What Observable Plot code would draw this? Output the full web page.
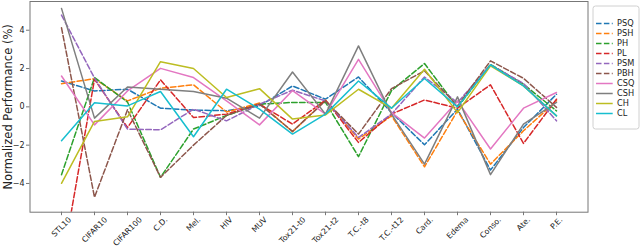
<!DOCTYPE html>
<html><head><meta charset="utf-8">
<script src="https://cdn.jsdelivr.net/npm/d3@7"></script>
<script src="https://cdn.jsdelivr.net/npm/@observablehq/plot@0.6"></script>
<style>
body{margin:0;background:#fff}
#chart{position:relative;width:640px;height:247px;font-family:"DejaVu Sans"}
#chart svg{position:absolute;overflow:visible}
</style>
</head><body><div id="chart"></div>
<script>
const categories = ["STL10","CIFAR10","CIFAR100","C.D.","Mel.","HIV","MUV","Tox21-t0","Tox21-t2","T.C.-t8","T.C.-t12","Card.","Edema","Conso.","Ate.","P.E."];
const seriesNames = ["PSQ","PSH","PH","PL","PSM","PBH","CSQ","CSH","CH","CL"];
const dashedSeries = ["PSQ","PSH","PH","PL","PSM","PBH"];
const colors = ["#1f77b4","#ff7f0e","#2ca02c","#d62728","#9467bd","#8c564b","#e377c2","#7f7f7f","#bcbd22","#17becf"];
const yTicks = [-4, -2, 0, 2, 4];
const yLabel = "Normalized Performance (%)";

const PSQ = [1.35, 0.83, 0.92, -0.07, -0.17, -0.2, 0.05, 1.09, 0.4, 1.56, -0.3, -1.98, -0.12, -3.3, -1.08, 0.66];
const PSH = [1.21, 1.47, 0.31, 0.97, 1.15, -0.27, 0.2, -1.3, 0.35, -1.68, -0.47, -3.13, -0.2, -2.99, -1.25, 0.31];
const PH  = [-3.54, 1.53, 0.25, -3.68, -1.16, -0.45, 0.14, 0.23, 0.23, -2.6, 0.85, 2.26, -0.03, 2.22, 1.18, -0.21];
const PL  = [-8.4, 1.44, -1.08, 1.41, -0.56, -0.38, 0.14, -0.9, 0.35, -1.86, -0.38, 0.36, -0.07, 1.15, -1.91, 0.4];
const PSM = [4.79, 1.5, -1.16, -1.2, -0.12, -0.73, 0.14, 0.87, 0.31, -1.6, -0.38, 1.56, 0.22, 2.19, 1.22, -0.73];
const PBH = [4.13, -4.72, -0.15, -3.68, -2.0, -0.45, 0.14, -1.28, 0.31, -1.42, 0.95, 1.88, 0.05, 2.4, 1.49, -0.03];
const CSQ = [1.61, -0.94, 0.83, 2.01, 1.53, 0.31, -0.94, 0.85, -0.38, 2.48, -0.3, -1.63, 0.31, -2.2, -0.07, 0.75];
const CSH = [5.14, -0.59, 1.04, 0.92, 0.8, 0.45, -0.59, 1.82, -0.38, 3.18, -0.38, -2.99, 0.52, -3.54, -0.9, 0.23];
const CH  = [-3.99, -0.76, -0.52, 2.36, 2.0, 0.49, 0.95, -0.64, -0.42, 0.92, -0.07, 1.96, -0.3, 2.14, 1.09, -0.47];
const CL  = [-1.77, 0.22, 0.05, 0.8, -1.56, 0.92, -0.12, -1.42, -0.38, 1.35, -0.07, 1.48, 0.0, 2.19, 1.09, -0.47];

const seriesValues = {PSQ, PSH, PH, PL, PSM, PBH, CSQ, CSH, CH, CL};
const rows = seriesNames.flatMap(s => seriesValues[s].map((v, i) => ({series: s, category: categories[i], value: v})));
const dashedRows = rows.filter(r => dashedSeries.includes(r.series));
const solidRows = rows.filter(r => !dashedSeries.includes(r.series));

const FONT = "DejaVu Sans";
const tickFs = 7.8;
const ctx = document.createElement("canvas").getContext("2d");
ctx.font = `${tickFs}px "${FONT}"`;
const S = Math.SQRT1_2;

const color = {domain: seriesNames, range: colors};
const W = 640, H = 247;
const mL = 29.5, mR = 52.5, mT = 1, mB = 35.3;
const dash = "5.5,2.4";

const xLabelMarks = categories.map(c => {
  const w = ctx.measureText(c).width;
  const dy = (215.8 - (H - mB)) + (w * S + 6 * S) / 2;
  return Plot.text([c], {x: d => d, frameAnchor: "bottom", dy, rotate: -45, textAnchor: "middle", lineAnchor: "middle", fontSize: tickFs, fill: "#222"});
});

const main = Plot.plot({
  width: W, height: H,
  marginLeft: mL, marginRight: mR, marginTop: mT, marginBottom: mB,
  style: {fontFamily: FONT, background: "transparent", color: "#222"},
  x: {type: "point", domain: categories, padding: 0.757},
  y: {domain: [-5.5, 5.5]},
  color,
  marks: [
    Plot.lineY(dashedRows, {x: "category", y: "value", z: "series", stroke: "series", strokeWidth: 1.5, strokeDasharray: dash, clip: true}),
    Plot.lineY(solidRows, {x: "category", y: "value", z: "series", stroke: "series", strokeWidth: 1.5, clip: true}),
    Plot.frame({stroke: "#777", strokeWidth: 1}),
    Plot.axisY({ticks: yTicks, tickSize: 3.5, tickPadding: 2, fontSize: 8, label: null, stroke: "#777",
      tickFormat: d => d < 0 ? "\u2212" + Math.abs(d) : String(d)}),
    Plot.axisX({ticks: categories, tickSize: 3.5, tickFormat: () => "", label: null, stroke: "#777"}),
    ...xLabelMarks,
    Plot.text([yLabel], {frameAnchor: "left", dx: -22, rotate: -90, textAnchor: "middle", lineAnchor: "middle", fontSize: 11.5, fill: "#222"})
  ]
});
main.style.left = "0px"; main.style.top = "0px";

const legendRows = seriesNames.map(s => ({name: s}));
const legend = Plot.plot({
  width: 47, height: 124, margin: 0,
  style: {fontFamily: FONT, background: "transparent"},
  x: {domain: [0, 1], range: [3.5, 20.2], axis: null},
  y: {type: "point", domain: seriesNames, range: [8.2, 117.2], axis: null},
  color,
  marks: [
    Plot.frame({stroke: "#d0d0d0", fill: "white", fillOpacity: 0.8, rx: 2.5, inset: 0.5}),
    Plot.link(legendRows.filter(r => dashedSeries.includes(r.name)), {x1: () => 0, x2: () => 1, y1: "name", y2: "name", stroke: "name", strokeWidth: 1.5, strokeDasharray: dash}),
    Plot.link(legendRows.filter(r => !dashedSeries.includes(r.name)), {x1: () => 0, x2: () => 1, y1: "name", y2: "name", stroke: "name", strokeWidth: 1.5}),
    Plot.text(legendRows, {x: () => 1, y: "name", text: "name", dx: 4.3, textAnchor: "start", fontSize: 8.2, fill: "#222"})
  ]
});
legend.style.left = "591.5px"; legend.style.top = "4.5px";

const root = document.getElementById("chart");
root.append(main, legend);
</script>
</body></html>
